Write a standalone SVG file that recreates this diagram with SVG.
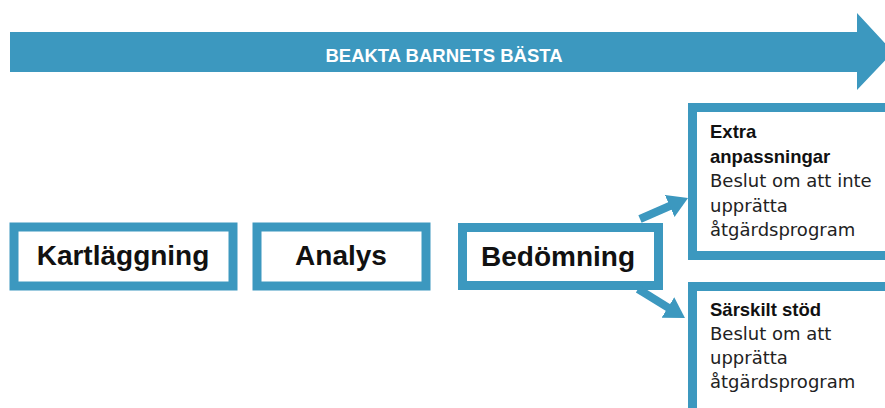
<svg xmlns="http://www.w3.org/2000/svg" width="885" height="408" viewBox="0 0 885 408">
  <style>
    .box { fill: #ffffff; stroke: #3C98BF; stroke-width: 9; }
    .big { font-family: "Liberation Sans", Arial, sans-serif; font-weight: bold; font-size: 28px; fill: #111111; text-anchor: middle; }
    .hd { font-family: "Liberation Sans", Arial, sans-serif; font-weight: bold; font-size: 18.5px; fill: #111111; }
    .tx { font-family: "DejaVu Sans", sans-serif; font-size: 18px; fill: #222222; }
    .conn { stroke: #3C98BF; stroke-width: 8; fill: none; }
  </style>
  <defs>
    <marker id="ah" markerUnits="userSpaceOnUse" markerWidth="20" markerHeight="24" refX="5" refY="12" orient="auto">
      <path d="M0,0 L20,12 L0,24 z" fill="#3C98BF"/>
    </marker>
  </defs>
  <rect width="885" height="408" fill="#ffffff"/>

  <g id="banner">
    <path d="M10,32 L857,32 L857,13 L893,52 L857,90 L857,72 L10,72 z" fill="#3C98BF"/>
    <text x="444" y="62" text-anchor="middle" font-family="Liberation Sans, Arial, sans-serif" font-weight="bold" font-size="18.5" fill="#ffffff">BEAKTA BARNETS BÄSTA</text>
  </g>

  <g id="kartlaggning">
    <rect class="box" x="14" y="227" width="219" height="59"/>
    <text class="big" x="123" y="265">Kartläggning</text>
  </g>

  <g id="analys">
    <rect class="box" x="257" y="227" width="169" height="59"/>
    <text class="big" x="341" y="265">Analys</text>
  </g>

  <g id="bedomning">
    <rect class="box" x="462.5" y="227.5" width="196" height="58"/>
    <text class="big" x="558" y="266">Bedömning</text>
  </g>

  <g id="extra">
    <rect class="box" x="692.5" y="107.5" width="210" height="148"/>
    <text class="hd" x="710" y="138">Extra</text>
    <text class="hd" x="710" y="162.5">anpassningar</text>
    <text class="tx" x="710" y="187">Beslut om att inte</text>
    <text class="tx" x="710" y="211.5">upprätta</text>
    <text class="tx" x="710" y="236">åtgärdsprogram</text>
  </g>

  <g id="sarskilt">
    <rect class="box" x="692.5" y="286.5" width="210" height="140"/>
    <text class="hd" x="710" y="316">Särskilt stöd</text>
    <text class="tx" x="710" y="340">Beslut om att</text>
    <text class="tx" x="710" y="364">upprätta</text>
    <text class="tx" x="710" y="388">åtgärdsprogram</text>
  </g>

  <g id="connectors">
    <line class="conn" x1="640" y1="219" x2="674.3" y2="204" marker-end="url(#ah)"/>
    <line class="conn" x1="638" y1="289" x2="672.2" y2="310.1" marker-end="url(#ah)"/>
  </g>
</svg>
